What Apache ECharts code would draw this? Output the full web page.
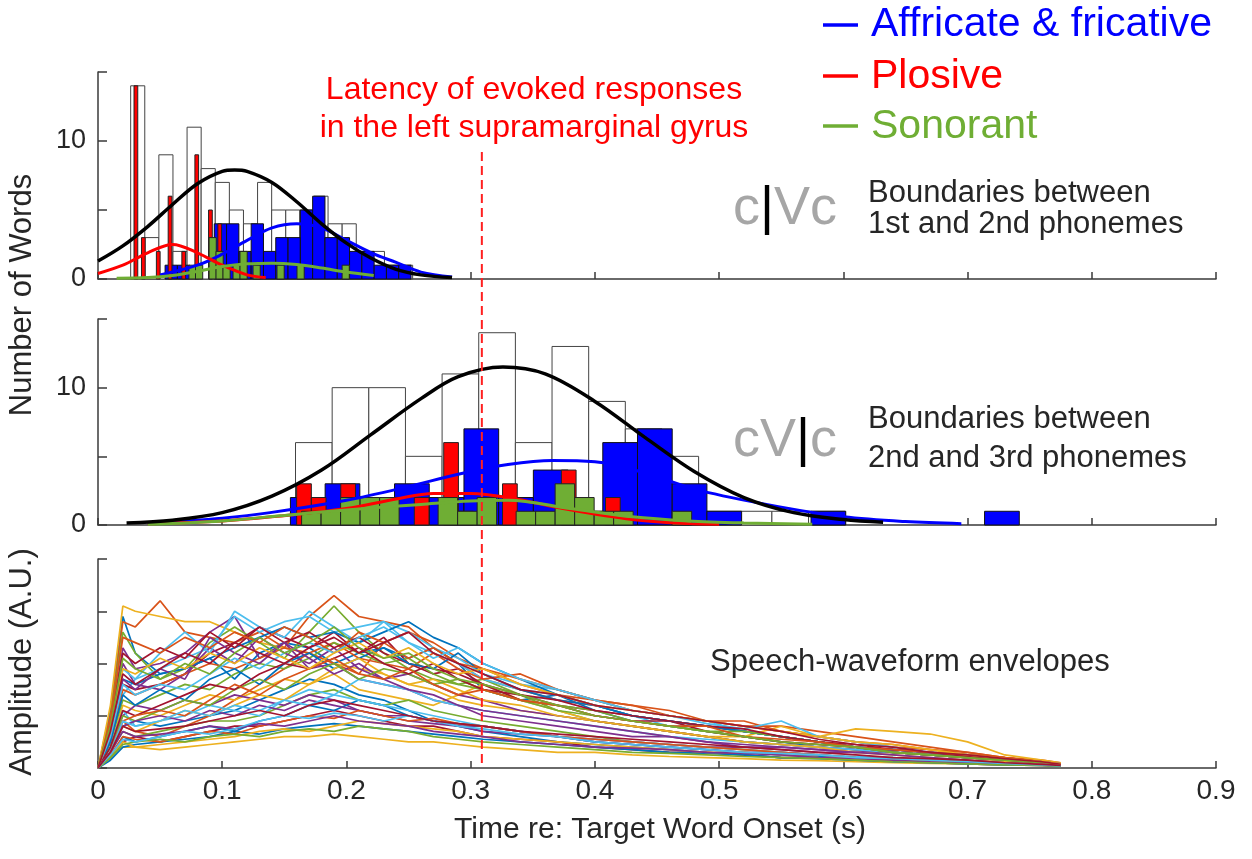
<!DOCTYPE html>
<html>
<head>
<meta charset="utf-8">
<script src="https://cdn.jsdelivr.net/npm/echarts@6/dist/echarts.min.js"></script>
<style>
html, body { margin: 0; padding: 0; background: #fff; }
#container { width: 1252px; height: 859px; }
</style>
</head>
<body>
<div id="container"></div>
<script>
// ---- data ----
var latencyTime = 0.309;
var latencyTop = 9.2;

// panel 1: boundary between 1st and 2nd phonemes
var p1TotalStart = 0.0263, p1TotalStep = 0.01135;
var p1Total = [14, 3, 9, 2, 11, 8, 7, 5, 4, 7, 5, 5, 5, 6, 4, 4, 2, 2, 1, 1];
var p1BlueStart = 0.054, p1BlueStep = 0.0099;
var p1Blue = [1, 1, 0, 0, 4, 4, 2, 4, 2, 3, 3, 5, 6, 3, 3, 2, 2, 1, 1, 1];
var p1RedLeft = [0.029, 0.035, 0.047, 0.0565, 0.0675, 0.078, 0.089, 0.0965];
var p1RedWidth = 0.003;
var p1Red = [14, 3, 2, 6, 2, 9, 5, 4];
var p1GreenLeft = [0.0732, 0.0785, 0.0894, 0.095, 0.1006, 0.1087, 0.1143, 0.1248, 0.1441, 0.1602, 0.1965];
var p1GreenWidth = 0.0058;
var p1Green = [1, 1, 3, 2, 1, 1, 2, 1, 1, 1, 1];

var p1BlackX = [0, 0.02, 0.04, 0.06, 0.08, 0.1, 0.11, 0.12, 0.14, 0.16, 0.18, 0.2, 0.22, 0.24, 0.26, 0.285];
var p1BlackY = [1.3, 2.4, 3.8, 5.4, 6.9, 7.8, 7.9, 7.8, 7.0, 5.6, 4.0, 2.6, 1.5, 0.7, 0.3, 0.1];
var p1BlueX = [0.05, 0.08, 0.1, 0.12, 0.14, 0.16, 0.18, 0.2, 0.22, 0.24, 0.26, 0.285];
var p1BlueY = [0.3, 1.0, 1.8, 2.8, 3.7, 4.0, 3.7, 2.8, 1.9, 1.2, 0.5, 0.15];
var p1RedX = [0, 0.02, 0.04, 0.06, 0.08, 0.1, 0.12, 0.135];
var p1RedY = [0.4, 1.0, 1.9, 2.5, 1.9, 1.0, 0.3, 0.1];
var p1GreenX = [0.015, 0.04, 0.06, 0.08, 0.1, 0.12, 0.14, 0.16, 0.18, 0.2, 0.222];
var p1GreenY = [0.05, 0.1, 0.25, 0.55, 0.9, 1.1, 1.15, 1.05, 0.8, 0.5, 0.25];

// panel 2: boundary between 2nd and 3rd phonemes
var p2TotalStart = 0.159, p2TotalStep = 0.0295;
var p2Total = [6, 10, 10, 5, 11, 14, 6, 13, 9, 7, 5, 1, 1, 1, 1];
var p2BlueStart = 0.1549, p2BlueStep = 0.02794;
var p2Blue = [2, 3, 1, 3, 2, 7, 2, 4, 1, 6, 7, 3, 1, 0, 0, 1, 0, 0, 0, 0, 1];
var p2RedStart = 0.1599, p2RedStep = 0.01184;
var p2Red = [3, 2, 1, 3, 0, 0, 0, 0, 2, 0, 6, 1, 0, 0, 3, 0, 0, 0, 4, 0, 0, 2];
var p2GreenStart = 0.1639, p2GreenStep = 0.0157;
var p2Green = [1, 1, 2, 2, 2, 0, 0, 2, 1, 2, 0, 1, 1, 3, 2, 1, 1, 0, 0, 1];

var p2BlackX = [0.023, 0.06, 0.1, 0.14, 0.18, 0.22, 0.26, 0.29, 0.326, 0.36, 0.4, 0.44, 0.48, 0.52, 0.56, 0.6, 0.632];
var p2BlackY = [0.15, 0.35, 0.9, 2.1, 4.0, 6.6, 9.2, 10.8, 11.5, 11.0, 9.0, 6.4, 3.9, 2.0, 0.9, 0.4, 0.2];
var p2BlueX = [0.04, 0.1, 0.1385, 0.2, 0.25, 0.29, 0.33, 0.366, 0.4, 0.44, 0.485, 0.55, 0.6, 0.65, 0.695];
var p2BlueY = [0.1, 0.5, 0.9, 1.8, 2.8, 3.7, 4.4, 4.7, 4.6, 3.8, 2.5, 1.3, 0.6, 0.25, 0.1];
var p2RedX = [0.04, 0.1, 0.14, 0.2, 0.24, 0.27, 0.3, 0.33, 0.38, 0.43, 0.475, 0.5];
var p2RedY = [0.1, 0.3, 0.6, 1.2, 1.9, 2.3, 2.3, 2.0, 1.1, 0.4, 0.1, 0.05];
var p2GreenX = [0.04, 0.1, 0.15, 0.2, 0.26, 0.3, 0.33, 0.38, 0.43, 0.475, 0.52, 0.575];
var p2GreenY = [0.05, 0.3, 0.7, 1.1, 1.5, 1.75, 1.8, 1.2, 0.6, 0.3, 0.15, 0.05];

// panel 3: speech-waveform envelopes (a sample of the traces)
var envTime = [0, 0.01, 0.02, 0.03, 0.05, 0.07, 0.09, 0.11, 0.13, 0.15, 0.17, 0.19, 0.21, 0.23, 0.25, 0.27, 0.29, 0.31,
  0.34, 0.37, 0.40, 0.43, 0.46, 0.49, 0.52, 0.55, 0.58, 0.61, 0.64, 0.67, 0.70, 0.73, 0.76, 0.775];
var env01 = [0, 1.1, 2.9, 2.2, 1.8, 1.9, 2.1, 1.7, 2.2, 2.4, 2.3, 2.0, 2.2, 2.3, 2.1, 2.3, 2.0, 1.5, 1.3, 1.4, 1.1, 0.9, 0.8, 0.7, 0.6, 0.5, 0.4, 0.35, 0.3, 0.25, 0.2, 0.15, 0.1, 0.07];
var env02 = [0, 1.0, 2.8, 2.7, 3.2, 2.6, 2.5, 2.4, 2.6, 2.3, 2.9, 3.3, 2.9, 2.8, 2.7, 2.3, 2.0, 1.7, 1.5, 1.3, 1.2, 1.0, 0.9, 0.8, 0.7, 0.6, 0.5, 0.4, 0.35, 0.3, 0.25, 0.2, 0.12, 0.08];
var env03 = [0, 1.2, 3.1, 3.0, 2.9, 2.8, 2.8, 2.6, 2.4, 2.3, 2.2, 2.0, 1.9, 1.8, 1.6, 1.5, 1.3, 1.2, 1.1, 1.0, 0.9, 0.8, 0.7, 0.6, 0.5, 0.45, 0.4, 0.35, 0.3, 0.25, 0.2, 0.15, 0.1, 0.08];
var env04 = [0, 0.8, 2.3, 1.9, 2.0, 2.2, 2.6, 2.9, 2.1, 2.4, 1.9, 2.0, 1.7, 1.6, 1.5, 1.3, 1.2, 1.0, 0.9, 0.8, 0.7, 0.6, 0.6, 0.5, 0.4, 0.4, 0.35, 0.3, 0.3, 0.25, 0.2, 0.15, 0.1, 0.06];
var env05 = [0, 0.9, 2.6, 2.2, 1.7, 1.9, 2.4, 2.7, 2.4, 2.1, 2.6, 3.1, 2.6, 2.2, 1.9, 1.7, 1.6, 1.7, 1.4, 1.1, 0.9, 0.8, 0.7, 0.6, 0.5, 0.45, 0.4, 0.35, 0.3, 0.25, 0.2, 0.15, 0.1, 0.07];
var env06 = [0, 0.5, 1.4, 1.7, 1.9, 2.1, 2.3, 2.9, 2.6, 2.8, 2.9, 2.6, 2.7, 2.8, 2.4, 2.2, 2.0, 1.7, 1.5, 1.4, 1.2, 1.0, 0.8, 0.8, 0.7, 0.6, 0.5, 0.4, 0.35, 0.3, 0.25, 0.18, 0.12, 0.08];
var env07 = [0, 0.6, 1.6, 1.5, 1.6, 1.8, 2.2, 2.4, 2.7, 2.5, 2.3, 2.6, 2.2, 2.5, 2.0, 1.8, 1.9, 1.6, 1.4, 1.2, 1.1, 1.0, 0.9, 0.8, 0.7, 0.6, 0.5, 0.4, 0.3, 0.25, 0.2, 0.15, 0.1, 0.07];
var env08 = [0, 0.3, 0.8, 0.9, 0.8, 0.9, 1.0, 1.1, 1.3, 1.5, 1.7, 1.6, 1.4, 1.3, 1.1, 0.9, 0.8, 0.7, 0.6, 0.5, 0.45, 0.4, 0.35, 0.3, 0.25, 0.2, 0.2, 0.15, 0.15, 0.1, 0.1, 0.08, 0.06, 0.05];
var env09 = [0, 0.3, 0.9, 0.7, 0.6, 0.8, 1.0, 1.3, 1.6, 1.9, 2.2, 2.0, 1.8, 2.4, 2.6, 2.4, 2.1, 1.9, 1.6, 1.4, 1.3, 1.2, 1.1, 0.9, 0.8, 0.8, 0.7, 0.6, 0.5, 0.4, 0.3, 0.2, 0.15, 0.1];
var env10 = [0, 0.4, 1.2, 1.1, 1.0, 1.2, 1.4, 1.3, 1.5, 1.7, 1.6, 1.8, 1.5, 1.4, 1.3, 1.2, 1.4, 1.6, 1.3, 1.1, 0.9, 0.8, 0.7, 0.6, 0.6, 0.8, 0.6, 0.75, 0.7, 0.65, 0.5, 0.25, 0.15, 0.1];
var env11 = [0, 0.7, 2.0, 1.6, 1.5, 1.8, 2.3, 2.0, 2.5, 2.2, 2.0, 2.3, 1.9, 1.7, 1.8, 1.6, 1.4, 1.3, 1.1, 1.0, 0.9, 0.8, 0.7, 0.6, 0.5, 0.45, 0.4, 0.35, 0.3, 0.25, 0.2, 0.15, 0.1, 0.06];
var env12 = [0, 0.3, 0.7, 0.6, 0.7, 0.8, 0.9, 0.9, 1.0, 1.2, 1.4, 1.5, 1.3, 1.2, 1.3, 1.1, 1.0, 0.9, 0.8, 0.7, 0.6, 0.5, 0.45, 0.4, 0.35, 0.3, 0.25, 0.2, 0.2, 0.15, 0.12, 0.1, 0.07, 0.05];
var env13 = [0, 0.7, 1.9, 1.7, 2.2, 2.6, 2.2, 3.0, 2.7, 2.5, 3.0, 2.7, 2.4, 2.8, 2.6, 2.3, 2.1, 1.8, 1.6, 1.5, 1.3, 1.1, 1.0, 0.9, 0.7, 0.6, 0.5, 0.4, 0.35, 0.3, 0.2, 0.15, 0.1, 0.07];
var env14 = [0, 0.2, 0.5, 0.6, 0.5, 0.6, 0.7, 0.8, 0.8, 0.9, 1.0, 1.1, 1.0, 0.9, 0.8, 0.8, 0.7, 0.6, 0.55, 0.5, 0.4, 0.35, 0.3, 0.3, 0.25, 0.2, 0.2, 0.15, 0.12, 0.1, 0.08, 0.06, 0.05, 0.04];
var env15 = [0, 0.6, 1.7, 1.6, 1.8, 1.9, 2.1, 2.3, 2.5, 2.7, 2.5, 2.6, 2.4, 2.6, 2.8, 2.5, 2.3, 2.0, 1.7, 1.4, 1.2, 1.0, 0.9, 0.8, 0.7, 0.6, 0.5, 0.4, 0.35, 0.3, 0.25, 0.18, 0.12, 0.08];
var env16 = [0, 0.5, 1.5, 1.4, 1.6, 1.8, 2.0, 1.9, 2.1, 2.3, 2.2, 2.4, 2.1, 2.0, 1.9, 2.2, 1.9, 1.7, 1.8, 1.5, 1.3, 1.2, 1.0, 0.9, 0.9, 0.7, 0.6, 0.5, 0.4, 0.35, 0.3, 0.2, 0.12, 0.08];
var env17 = [0, 0.2, 0.4, 0.4, 0.35, 0.4, 0.45, 0.5, 0.55, 0.6, 0.6, 0.65, 0.6, 0.55, 0.5, 0.5, 0.45, 0.4, 0.35, 0.3, 0.3, 0.25, 0.22, 0.2, 0.18, 0.15, 0.14, 0.12, 0.1, 0.09, 0.08, 0.06, 0.05, 0.04];
var env18 = [0, 0.4, 1.0, 1.2, 1.1, 1.3, 1.2, 1.4, 1.3, 1.2, 1.4, 1.3, 1.1, 1.0, 1.0, 0.9, 0.8, 0.8, 0.7, 0.6, 0.55, 0.5, 0.45, 0.4, 0.4, 0.35, 0.3, 0.3, 0.35, 0.3, 0.2, 0.15, 0.1, 0.06];
var env19 = [0, 0.5, 1.3, 1.2, 1.4, 1.6, 1.5, 1.8, 2.0, 1.9, 2.1, 2.4, 2.2, 2.0, 2.1, 1.8, 1.6, 1.5, 1.3, 1.1, 1.0, 0.9, 0.8, 0.7, 0.6, 0.5, 0.45, 0.4, 0.3, 0.25, 0.2, 0.15, 0.1, 0.07];
var env20 = [0, 0.4, 1.1, 0.8, 0.9, 1.0, 1.2, 1.1, 1.0, 1.3, 1.5, 1.4, 1.7, 1.6, 1.5, 1.3, 1.2, 1.1, 1.0, 0.9, 0.8, 0.7, 0.6, 0.55, 0.5, 0.45, 0.4, 0.35, 0.3, 0.25, 0.2, 0.15, 0.1, 0.06];
var env21 = [0, 0.8, 2.2, 2.0, 2.3, 2.1, 2.6, 2.3, 2.7, 2.4, 2.6, 2.3, 2.5, 2.2, 2.0, 1.9, 1.8, 1.6, 1.3, 1.2, 1.0, 0.9, 0.9, 0.7, 0.6, 0.5, 0.45, 0.4, 0.3, 0.25, 0.2, 0.15, 0.1, 0.07];
var env22 = [0, 0.5, 1.4, 1.2, 1.5, 1.3, 1.7, 1.9, 1.6, 2.0, 2.2, 1.9, 2.1, 2.3, 2.0, 1.9, 2.2, 1.8, 1.5, 1.3, 1.2, 1.0, 0.9, 0.8, 0.7, 0.6, 0.5, 0.4, 0.35, 0.3, 0.22, 0.16, 0.1, 0.07];
var env23 = [0, 0.9, 2.5, 2.4, 2.2, 2.5, 2.3, 2.6, 2.4, 2.7, 2.5, 2.2, 2.6, 2.4, 2.1, 2.3, 2.0, 1.9, 1.7, 1.5, 1.3, 1.1, 1.0, 0.9, 0.8, 0.7, 0.6, 0.5, 0.45, 0.35, 0.25, 0.18, 0.12, 0.08];
var env24 = [0, 0.3, 0.8, 0.7, 0.9, 1.1, 1.0, 1.2, 1.4, 1.3, 1.6, 1.9, 2.1, 1.8, 1.6, 1.7, 1.5, 1.3, 1.2, 1.0, 0.9, 0.8, 0.7, 0.6, 0.5, 0.45, 0.4, 0.3, 0.25, 0.2, 0.15, 0.12, 0.08, 0.05];
var env25 = [0, 0.6, 1.7, 1.5, 1.9, 1.7, 2.5, 2.2, 2.0, 2.4, 2.1, 1.8, 2.0, 1.7, 1.5, 1.4, 1.2, 1.1, 1.0, 0.9, 0.8, 0.7, 0.6, 0.5, 0.45, 0.4, 0.35, 0.3, 0.25, 0.2, 0.15, 0.1, 0.08, 0.05];
var env26 = [0, 0.4, 1.0, 0.9, 1.1, 1.3, 1.2, 1.5, 1.7, 1.5, 1.8, 2.0, 1.7, 1.9, 1.8, 1.6, 1.7, 1.5, 1.3, 1.2, 1.1, 0.9, 0.8, 0.7, 0.7, 0.6, 0.5, 0.4, 0.3, 0.25, 0.2, 0.15, 0.1, 0.06];
var env27 = [0, 0.6, 1.6, 1.4, 1.6, 1.5, 1.8, 2.1, 1.9, 2.2, 2.4, 2.2, 2.5, 2.7, 2.4, 2.1, 2.3, 2.0, 1.7, 1.5, 1.3, 1.1, 1.0, 0.85, 0.75, 0.9, 0.6, 0.5, 0.4, 0.3, 0.25, 0.18, 0.12, 0.08];
var env28 = [0, 0.4, 1.1, 1.0, 1.2, 1.4, 1.6, 1.5, 1.8, 2.0, 1.9, 2.1, 2.3, 2.0, 1.8, 2.0, 1.7, 1.5, 1.4, 1.3, 1.1, 1.0, 0.9, 0.8, 0.75, 0.6, 0.5, 0.45, 0.35, 0.3, 0.22, 0.16, 0.1, 0.06];
var env29 = [0, 0.2, 0.6, 0.5, 0.6, 0.7, 0.8, 0.7, 0.9, 1.0, 1.2, 1.1, 1.3, 1.2, 1.0, 0.9, 0.85, 0.8, 0.7, 0.6, 0.5, 0.45, 0.4, 0.35, 0.3, 0.25, 0.22, 0.2, 0.16, 0.12, 0.1, 0.08, 0.06, 0.04];
var env30 = [0, 0.3, 0.9, 1.0, 1.1, 1.0, 1.3, 1.6, 1.4, 1.7, 1.9, 2.1, 1.8, 1.7, 1.9, 1.6, 1.4, 1.5, 1.3, 1.2, 1.0, 0.9, 0.8, 0.8, 0.6, 0.55, 0.5, 0.4, 0.35, 0.3, 0.25, 0.2, 0.12, 0.08];
var env31 = [0, 0.7, 1.9, 1.8, 2.1, 1.9, 2.2, 2.0, 2.3, 2.1, 1.9, 2.2, 2.4, 2.1, 2.3, 2.0, 1.8, 1.9, 1.6, 1.4, 1.2, 1.1, 1.0, 0.9, 0.8, 0.7, 0.6, 0.5, 0.45, 0.35, 0.25, 0.18, 0.12, 0.08];
var env32 = [0, 0.3, 0.8, 0.9, 1.0, 0.9, 1.1, 1.0, 1.2, 1.1, 1.3, 1.2, 1.1, 1.0, 0.9, 0.85, 0.8, 0.7, 0.65, 0.6, 0.5, 0.45, 0.4, 0.35, 0.3, 0.3, 0.25, 0.2, 0.18, 0.15, 0.1, 0.08, 0.06, 0.04];
var env33 = [0, 0.8, 2.1, 1.9, 1.7, 2.0, 1.8, 2.2, 2.5, 2.2, 2.4, 2.7, 2.3, 2.1, 2.2, 1.9, 1.7, 1.6, 1.4, 1.2, 1.0, 0.9, 0.8, 0.7, 0.6, 0.5, 0.45, 0.4, 0.3, 0.25, 0.2, 0.15, 0.1, 0.06];
var env34 = [0, 0.3, 0.9, 0.8, 0.9, 1.1, 1.0, 1.2, 1.1, 1.3, 1.2, 1.4, 1.3, 1.2, 1.1, 1.0, 0.9, 0.8, 0.7, 0.6, 0.55, 0.5, 0.45, 0.4, 0.35, 0.3, 0.25, 0.22, 0.2, 0.15, 0.12, 0.1, 0.07, 0.05];
var env35 = [0, 0.7, 1.8, 1.6, 1.9, 2.2, 2.0, 2.4, 2.2, 2.0, 2.3, 2.5, 2.2, 2.4, 2.6, 2.2, 2.0, 1.8, 1.5, 1.4, 1.2, 1.1, 1.0, 0.9, 0.8, 0.7, 0.55, 0.45, 0.4, 0.3, 0.25, 0.18, 0.12, 0.07];
var env36 = [0, 0.15, 0.4, 0.45, 0.5, 0.55, 0.6, 0.7, 0.65, 0.75, 0.8, 0.85, 0.8, 0.75, 0.7, 0.65, 0.6, 0.55, 0.5, 0.45, 0.4, 0.35, 0.3, 0.28, 0.25, 0.2, 0.18, 0.15, 0.12, 0.1, 0.08, 0.06, 0.05, 0.04];
var env37 = [0, 0.25, 0.6, 0.55, 0.5, 0.6, 0.7, 0.65, 0.8, 0.9, 1.0, 0.95, 1.1, 1.0, 0.9, 0.95, 0.85, 0.8, 0.7, 0.6, 0.55, 0.5, 0.45, 0.4, 0.35, 0.3, 0.25, 0.2, 0.18, 0.15, 0.12, 0.1, 0.07, 0.05];
var env38 = [0, 0.2, 0.5, 0.4, 0.45, 0.5, 0.55, 0.6, 0.7, 0.75, 0.7, 0.8, 0.9, 0.85, 0.8, 0.75, 0.7, 0.6, 0.55, 0.5, 0.45, 0.4, 0.35, 0.3, 0.3, 0.25, 0.2, 0.18, 0.15, 0.12, 0.1, 0.08, 0.06, 0.04];
var env39 = [0, 0.3, 0.7, 0.6, 0.65, 0.7, 0.8, 0.75, 0.85, 0.8, 0.9, 1.0, 0.9, 0.85, 0.8, 0.7, 0.65, 0.6, 0.5, 0.45, 0.4, 0.38, 0.35, 0.3, 0.28, 0.25, 0.2, 0.18, 0.15, 0.12, 0.1, 0.08, 0.06, 0.04];
var env40 = [0, 0.2, 0.45, 0.5, 0.55, 0.5, 0.6, 0.65, 0.6, 0.7, 0.75, 0.7, 0.8, 0.75, 0.7, 0.6, 0.55, 0.5, 0.45, 0.4, 0.35, 0.3, 0.28, 0.25, 0.22, 0.2, 0.18, 0.15, 0.12, 0.1, 0.08, 0.06, 0.05, 0.03];
var env41 = [0, 0.25, 0.55, 0.5, 0.6, 0.7, 0.65, 0.75, 0.9, 1.0, 0.95, 1.05, 1.0, 0.9, 1.0, 0.9, 0.8, 0.75, 0.65, 0.6, 0.5, 0.45, 0.4, 0.35, 0.3, 0.28, 0.25, 0.2, 0.18, 0.15, 0.12, 0.09, 0.06, 0.04];
var env42 = [0, 0.3, 0.8, 0.7, 0.75, 0.8, 0.9, 1.0, 1.1, 1.0, 1.2, 1.3, 1.2, 1.1, 1.0, 0.9, 0.85, 0.8, 0.7, 0.65, 0.6, 0.55, 0.5, 0.45, 0.4, 0.35, 0.3, 0.25, 0.2, 0.18, 0.15, 0.1, 0.07, 0.05];
var envelopes = [env01, env02, env03, env04, env05, env06, env07, env08, env09, env10, env11, env12,
  env13, env14, env15, env16, env17, env18, env19, env20, env21, env22, env23, env24, env25, env26,
  env27, env28, env29, env30, env31, env32, env33, env34, env35, env36, env37, env38, env39, env40,
  env41, env42];

// ---- styling ----
var FONT = 'Liberation Sans, Arial, sans-serif';
var INK = '#262626';
var AXIS = '#3a3a3a';
var BLUE = '#0000ff', RED = '#ff0000', GREEN = '#6fae34';
var envPalette = ['#0072BD', '#D95319', '#EDB120', '#7E2F8E', '#77AC30', '#4DBEEE', '#A2142F'];

function binsRegular(start, step, counts) {
  var out = [];
  counts.forEach(function (c, i) {
    if (c > 0) out.push([start + i * step, start + (i + 1) * step, c]);
  });
  return out;
}
function binsAt(lefts, width, counts) {
  return lefts.map(function (x, i) { return [x, x + width, counts[i]]; });
}
function pairs(xs, ys) {
  return xs.map(function (x, i) { return [x, ys[i]]; });
}

function histSeries(grid, data, fill, stroke) {
  return {
    type: 'custom',
    xAxisIndex: grid,
    yAxisIndex: grid,
    silent: true,
    encode: { x: [0, 1], y: 2 },
    data: data,
    renderItem: function (params, api) {
      var p0 = api.coord([api.value(0), 0]);
      var p1 = api.coord([api.value(1), api.value(2)]);
      return {
        type: 'rect',
        shape: { x: p0[0], y: p1[1], width: p1[0] - p0[0], height: p0[1] - p1[1] },
        style: { fill: fill, stroke: stroke, lineWidth: 1 }
      };
    }
  };
}
function fitSeries(grid, xs, ys, color, width) {
  return {
    type: 'line',
    xAxisIndex: grid,
    yAxisIndex: grid,
    silent: true,
    symbol: 'none',
    smooth: 0.35,
    data: pairs(xs, ys),
    lineStyle: { color: color, width: width }
  };
}

function xAxisFor(grid, showLabels) {
  return {
    type: 'value', gridIndex: grid, min: 0, max: 0.9, interval: 0.1,
    axisLine: { show: true, onZero: false, lineStyle: { color: AXIS, width: 1.5 } },
    axisTick: { show: true, inside: true, length: 7, lineStyle: { color: AXIS, width: 1.5 } },
    axisLabel: {
      show: showLabels, margin: 9, color: INK, fontSize: 28, fontFamily: FONT,
      formatter: function (v) { return v === 0 ? '0' : v.toFixed(1); }
    },
    splitLine: { show: false }
  };
}
function yAxisFor(grid, max, interval, showLabels) {
  return {
    type: 'value', gridIndex: grid, min: 0, max: max, interval: interval,
    axisLine: { show: true, lineStyle: { color: AXIS, width: 1.5 } },
    axisTick: { show: true, inside: true, length: 9, lineStyle: { color: AXIS, width: 1.5 } },
    axisLabel: {
      show: showLabels, margin: 12, color: INK, fontSize: 27, fontFamily: FONT,
      formatter: function (v) { return (v === 0 || v === 10) ? String(v) : ''; }
    },
    splitLine: { show: false }
  };
}

var series = [];
// panel 1
series.push(histSeries(0, binsRegular(p1TotalStart, p1TotalStep, p1Total), '#ffffff', '#444'));
series.push(histSeries(0, binsRegular(p1BlueStart, p1BlueStep, p1Blue), BLUE, '#111'));
series.push(fitSeries(0, p1BlueX, p1BlueY, BLUE, 3));
series.push(histSeries(0, binsAt(p1RedLeft, p1RedWidth, p1Red), RED, '#222'));
series.push(fitSeries(0, p1RedX, p1RedY, RED, 3));
series.push(histSeries(0, binsAt(p1GreenLeft, p1GreenWidth, p1Green), GREEN, '#222'));
series.push(fitSeries(0, p1GreenX, p1GreenY, GREEN, 3));
series.push(fitSeries(0, p1BlackX, p1BlackY, '#000', 3.5));
// panel 2
series.push(histSeries(1, binsRegular(p2TotalStart, p2TotalStep, p2Total), '#ffffff', '#444'));
series.push(histSeries(1, binsRegular(p2BlueStart, p2BlueStep, p2Blue), BLUE, '#111'));
series.push(fitSeries(1, p2BlueX, p2BlueY, BLUE, 3));
series.push(histSeries(1, binsRegular(p2RedStart, p2RedStep, p2Red), RED, '#222'));
series.push(fitSeries(1, p2RedX, p2RedY, RED, 3));
series.push(histSeries(1, binsRegular(p2GreenStart, p2GreenStep, p2Green), GREEN, '#222'));
series.push(fitSeries(1, p2GreenX, p2GreenY, GREEN, 3));
series.push(fitSeries(1, p2BlackX, p2BlackY, '#000', 3.5));
// panel 3
envelopes.forEach(function (env, i) {
  series.push({
    type: 'line', xAxisIndex: 2, yAxisIndex: 2, silent: true,
    symbol: 'none', smooth: false,
    data: pairs(envTime, env),
    lineStyle: { color: envPalette[i % envPalette.length], width: 1.7 }
  });
});

function txt(id, x, y, text, size, color, extra) {
  var el = {
    id: id, type: 'text', x: x, y: y, z: 50,
    style: {
      text: text, fill: color, fontSize: size, fontFamily: FONT,
      textAlign: 'left', textVerticalAlign: 'middle'
    }
  };
  if (extra) {
    Object.keys(extra).forEach(function (k) {
      if (k === 'style') Object.assign(el.style, extra.style); else el[k] = extra[k];
    });
  }
  return el;
}
function legendLine(id, y, color) {
  return { id: id, type: 'line', z: 50, shape: { x1: 823, y1: y, x2: 858, y2: y }, style: { stroke: color, lineWidth: 3.5 } };
}
function cvc(id, x, y, text) {
  return {
    id: id, type: 'text', x: x, y: y, z: 50,
    style: {
      text: text, textVerticalAlign: 'middle',
      rich: {
        g: { fill: '#a6a6a6', fontSize: 54, fontFamily: FONT },
        b: { fill: '#000', fontSize: 54, fontFamily: FONT }
      }
    }
  };
}

var graphics = [
  txt('lat1', 534, 90, 'Latency of evoked responses', 32, RED, { style: { textAlign: 'center' } }),
  txt('lat2', 534, 128, 'in the left supramarginal gyrus', 32, RED, { style: { textAlign: 'center' } }),
  legendLine('lgB', 25, BLUE), legendLine('lgR', 76, RED), legendLine('lgG', 126, GREEN),
  txt('lgBt', 871, 25, 'Affricate & fricative', 41, BLUE),
  txt('lgRt', 871, 77, 'Plosive', 41, RED),
  txt('lgGt', 871, 127, 'Sonorant', 41, GREEN),
  cvc('cvc1', 733, 209, '{g|c}{b||}{g|Vc}'),
  txt('b1a', 868, 193, 'Boundaries between', 31, INK),
  txt('b1b', 868, 224, '1st and 2nd phonemes', 31, INK),
  cvc('cvc2', 733, 441, '{g|cV}{b||}{g|c}'),
  txt('b2a', 868, 419, 'Boundaries between', 31, INK),
  txt('b2b', 868, 458, '2nd and 3rd phonemes', 31, INK),
  txt('speech', 710, 662, 'Speech-waveform envelopes', 31, INK),
  txt('ylab1', 22, 295, 'Number of Words', 31, INK, { rotation: Math.PI / 2, style: { textAlign: 'center' } }),
  txt('ylab3', 22, 662, 'Amplitude (A.U.)', 31, INK, { rotation: Math.PI / 2, style: { textAlign: 'center' } }),
  txt('xlab', 660, 830, 'Time re: Target Word Onset (s)', 30, INK, { style: { textAlign: 'center' } })
];

var chart = echarts.init(document.getElementById('container'));
chart.setOption({
  animation: false,
  backgroundColor: '#ffffff',
  grid: [
    { left: 98, right: 36, top: 72, height: 207 },
    { left: 98, right: 36, top: 319, height: 206 },
    { left: 98, right: 36, top: 559, height: 209 }
  ],
  xAxis: [xAxisFor(0, false), xAxisFor(1, false), xAxisFor(2, true)],
  yAxis: [yAxisFor(0, 15, 5, true), yAxisFor(1, 15, 5, true), yAxisFor(2, 4, 1, false)],
  series: series,
  graphic: graphics
});

// dashed latency marker, placed through the axes' own scales
var lx = chart.convertToPixel({ xAxisIndex: 0 }, latencyTime);
var ly1 = chart.convertToPixel({ yAxisIndex: 0 }, latencyTop);
var ly2 = chart.convertToPixel({ yAxisIndex: 2 }, 0);
chart.setOption({
  graphic: [{
    id: 'latency', type: 'line', z: 100,
    shape: { x1: lx, y1: ly1, x2: lx, y2: ly2 },
    style: { stroke: '#ff2020', lineWidth: 2, lineDash: [9, 5] }
  }]
});
</script>
</body>
</html>
